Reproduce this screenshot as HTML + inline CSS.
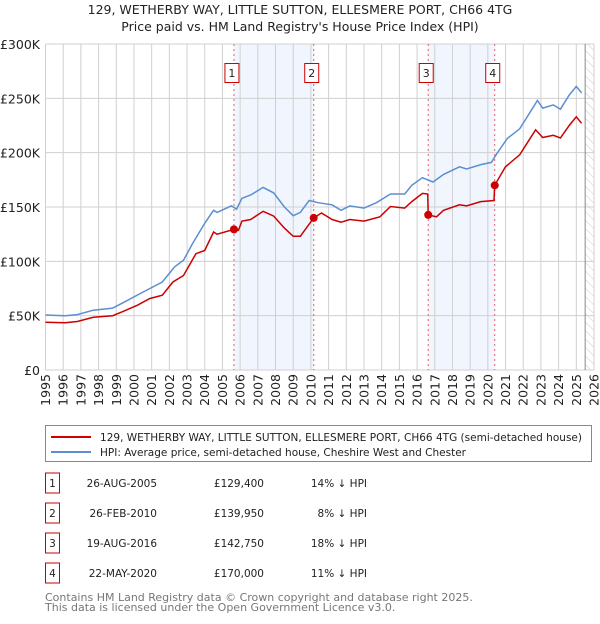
<!DOCTYPE html>
<html><head><meta charset="utf-8">
<style>
body{margin:0;background:#fff;font-family:"DejaVu Sans","Liberation Sans",sans-serif;}
svg text{font-family:"DejaVu Sans","Liberation Sans",sans-serif;}
</style></head>
<body>
<svg id="chart" width="600" height="620" xmlns="http://www.w3.org/2000/svg">
<defs>
<pattern id="hatch" width="6" height="6" patternUnits="userSpaceOnUse" patternTransform="rotate(-45)">
<line x1="0" y1="0" x2="0" y2="6" stroke="#ccc" stroke-width="1"/>
</pattern>
</defs>
<text x="300" y="14" text-anchor="middle" font-size="12.5" fill="#222">129, WETHERBY WAY, LITTLE SUTTON, ELLESMERE PORT, CH66 4TG</text>
<text x="300" y="31" text-anchor="middle" font-size="12.5" fill="#222">Price paid vs. HM Land Registry's House Price Index (HPI)</text>
<g id="plot"></g>
<g id="legend">
<rect x="45.5" y="425.5" width="546" height="36" fill="#fff" stroke="#888"/>
<line x1="51" y1="437" x2="91" y2="437" stroke="#cc0000" stroke-width="2"/>
<text x="100" y="441" font-size="10.5" textLength="482" lengthAdjust="spacingAndGlyphs" fill="#222">129, WETHERBY WAY, LITTLE SUTTON, ELLESMERE PORT, CH66 4TG (semi-detached house)</text>
<line x1="51" y1="452" x2="91" y2="452" stroke="#5b8fd0" stroke-width="2"/>
<text x="100" y="456" font-size="10.5" textLength="366" lengthAdjust="spacingAndGlyphs" fill="#222">HPI: Average price, semi-detached house, Cheshire West and Chester</text>
</g>
<g id="table"></g>
<text x="45" y="601" font-size="11" fill="#777">Contains HM Land Registry data © Crown copyright and database right 2025.</text>
<text x="45" y="611" font-size="11" fill="#777">This data is licensed under the Open Government Licence v3.0.</text>
</svg>
<script>
const hpiYears=[1995,1996.1,1996.8,1997.7,1998.8,1999.4,2000.2,2000.9,2001.6,2002.3,2002.8,2003.3,2004.0,2004.5,2004.7,2005.5,2005.8,2006.1,2006.6,2007.3,2007.9,2008.5,2009.0,2009.4,2009.9,2010.4,2011.2,2011.7,2012.2,2013.0,2013.7,2014.5,2015.3,2015.7,2016.3,2016.9,2017.5,2018.4,2018.8,2019.6,2020.2,2020.5,2021.1,2021.8,2022.8,2023.1,2023.7,2024.1,2024.6,2025.0,2025.3];
const hpiValues=[50.6,50,51,55,57,62,69,75,81,95,101,116,135,147,145,151,148,158,161,168,163,150,142,145,156,154,152,147,151,149,154,162,162,170,177,173,180,187,185,189,191,199,213,222,248,241,244,240,253,261,255];
const propYears=[1995,1996.1,1996.8,1997.7,1998.8,1999.4,2000.2,2000.9,2001.6,2002.2,2002.8,2003.5,2004.0,2004.5,2004.7,2005.65,2005.9,2006.1,2006.6,2007.3,2007.9,2008.5,2009.0,2009.4,2010.16,2010.6,2011.2,2011.7,2012.2,2013.0,2013.9,2014.5,2015.3,2015.7,2016.3,2016.6,2016.63,2017.1,2017.5,2018.4,2018.8,2019.6,2020.35,2020.39,2021.0,2021.8,2022.7,2023.1,2023.7,2024.1,2024.6,2025.0,2025.3];
const propValues=[44,43.5,44.6,48.5,50,54,59.6,65.8,68.8,81,87,107,110,127,125,129.4,128.5,137,138.5,146,141.6,130.6,123,123,139.95,144.5,138.5,136,138.5,137,141,150.5,149,155,162.5,162,142.75,141,147,152,151,155,156,170,187,198,221,214,216,213.5,225,233,227];
const saleYears=[2005.65,2010.16,2016.63,2020.39];
const saleValues=[129.4,139.95,142.75,170];
const saleLabels=["1","2","3","4"];
const saleDates=["26-AUG-2005","26-FEB-2010","19-AUG-2016","22-MAY-2020"];
const salePrices=["£129,400","£139,950","£142,750","£170,000"];
const saleDiffs=["14% ↓ HPI","8% ↓ HPI","18% ↓ HPI","11% ↓ HPI"];
const yTicks=[0,50,100,150,200,250,300];
const yTickLabels=["£0","£50K","£100K","£150K","£200K","£250K","£300K"];
const xTicks=[1995,1996,1997,1998,1999,2000,2001,2002,2003,2004,2005,2006,2007,2008,2009,2010,2011,2012,2013,2014,2015,2016,2017,2018,2019,2020,2021,2022,2023,2024,2025,2026];

const X0=45.5,X1=594,Y0=370,Y1=44;
const xs=y=>X0+(y-1995)/(2026-1995)*(X1-X0);
const ys=v=>Y0-(v/300)*(Y0-Y1);
const NS="http://www.w3.org/2000/svg";
const plot=document.getElementById('plot');
function mk(tag,attrs,parent){const e=document.createElementNS(NS,tag);for(const k in attrs)e.setAttribute(k,attrs[k]);(parent||plot).appendChild(e);return e;}

for(let i=0;i<saleYears.length;i+=2){
  const b=mk('rect',{x:xs(saleYears[i]),y:Y1,width:xs(saleYears[i+1])-xs(saleYears[i]),height:Y0-Y1,fill:'#eef3fc',opacity:0.8});
  
  
}
const h=mk('rect',{x:xs(2025.5),y:Y1,width:X1-xs(2025.5),height:Y0-Y1,fill:'url(#hatch)'});


xTicks.forEach(t=>{
  const l=mk('line',{x1:xs(t),x2:xs(t),y1:Y1,y2:Y0,stroke:'#d0d0d0','stroke-width':1});
  
  
  const tx=mk('text',{x:0,y:0,'font-size':12.5,fill:'#222','text-anchor':'end',transform:`translate(${xs(t)+4.5},${Y0+4}) rotate(-90)`});
  tx.textContent=t;
  
  
});
yTicks.forEach((t,i)=>{
  const l=mk('line',{x1:X0,x2:X1,y1:ys(t),y2:ys(t),stroke:'#d0d0d0','stroke-width':1});
  
  
  const tx=mk('text',{x:40,y:ys(t)+5,'font-size':12.5,fill:'#222','text-anchor':'end'});
  tx.textContent=yTickLabels[i];
  
  
});
const nl=mk('line',{x1:xs(2025.5),x2:xs(2025.5),y1:Y1,y2:Y0,stroke:'#888','stroke-width':1});


saleYears.forEach((s,i)=>{
  const l=mk('line',{x1:xs(s),x2:xs(s),y1:Y1,y2:Y0,stroke:'#e86060','stroke-width':1,'stroke-dasharray':'2,3'});
  
  
  const r=mk('rect',{x:xs(s)-9,y:63.5,width:14,height:19,fill:'#fff',stroke:'#cc0000'});
  
  
  const t=mk('text',{x:xs(s)-2,y:77,'font-size':11,'text-anchor':'middle',fill:'#222'});
  t.textContent=saleLabels[i];
  
  
});
function pts(xa,va){return xa.map((y,i)=>xs(y).toFixed(1)+','+ys(va[i]).toFixed(1)).join(' ');}
const hl=mk('polyline',{points:pts(hpiYears,hpiValues),fill:'none',stroke:'#5b8fd0','stroke-width':1.5});


const pl=mk('polyline',{points:pts(propYears,propValues),fill:'none',stroke:'#cc0000','stroke-width':1.5});


saleYears.forEach((s,i)=>{
  const c=mk('circle',{cx:xs(s),cy:ys(saleValues[i]),r:4,fill:'#cc0000'});
  
  
});
const tb=document.getElementById('table');
saleLabels.forEach((lab,i)=>{
  const y=483+i*30;
  const r=mk('rect',{x:45.5,y:y-10,width:14,height:20,fill:'#fff',stroke:'#cc0000'},tb);
  
  
  const cells=[[52.5,lab,'middle'],[157,saleDates[i],'end'],[264,salePrices[i],'end'],[367,saleDiffs[i],'end']];
  cells.forEach(c=>{
    const t=mk('text',{x:c[0],y:y+4,'font-size':10.5,fill:'#222','text-anchor':c[2]},tb);
    t.textContent=c[1];
    
    
  });
});
</script>
</body></html>
